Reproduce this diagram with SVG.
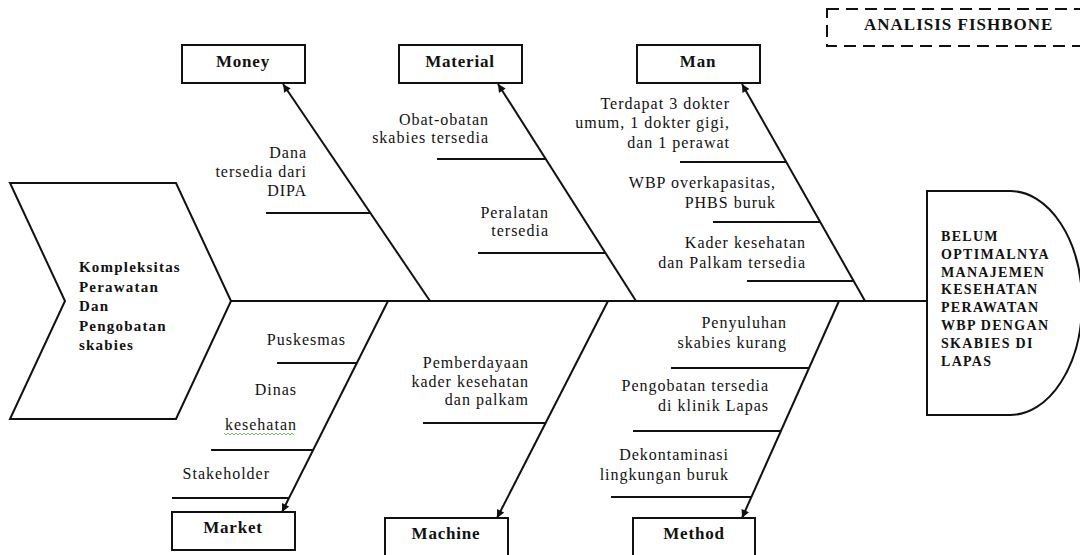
<svg xmlns="http://www.w3.org/2000/svg" width="1080" height="555" viewBox="0 0 1080 555">
<style>
.ln{stroke:#111;stroke-width:2;fill:none}
.box{stroke:#111;stroke-width:2;fill:#fff}
.t{font-family:"Liberation Serif","Times New Roman",serif;font-size:16px;fill:#111;letter-spacing:1px;text-anchor:end}
.lb{font-family:"Liberation Serif","Times New Roman",serif;font-size:17px;font-weight:bold;fill:#111;text-anchor:middle;letter-spacing:0.8px}
.bt{font-family:"Liberation Serif","Times New Roman",serif;font-weight:bold;fill:#111}
</style>
<defs>
<marker id="ah" viewBox="0 0 10 10" refX="10" refY="5" markerWidth="10" markerHeight="8" markerUnits="userSpaceOnUse" orient="auto">
<path d="M0,0 L10,5 L0,10 z" fill="#111"/>
</marker>
</defs>
<rect width="1080" height="555" fill="#fff"/>

<g id="title">
<rect x="827" y="9" width="300" height="37" fill="none" stroke="#111" stroke-width="2" stroke-dasharray="12 7"/>
<text class="bt" x="864" y="30" font-size="17" letter-spacing="1">ANALISIS FISHBONE</text>
</g>

<g id="tail">
<polygon class="box" points="10,183 176,183 231,301 176,419 10,419 65,301"/>
<g class="bt" font-size="15" letter-spacing="1.2">
<text x="79" y="272">Kompleksitas</text>
<text x="79" y="292">Perawatan</text>
<text x="79" y="311">Dan</text>
<text x="79" y="331">Pengobatan</text>
<text x="79" y="350">skabies</text>
</g>
</g>

<g id="head">
<path class="box" d="M927,191 H1010 A72,112 0 0 1 1010,415 H927 Z"/>
<g class="bt" font-size="14" letter-spacing="1.3">
<text x="941" y="241">BELUM</text>
<text x="941" y="259">OPTIMALNYA</text>
<text x="941" y="277">MANAJEMEN</text>
<text x="941" y="294">KESEHATAN</text>
<text x="941" y="312">PERAWATAN</text>
<text x="941" y="330">WBP DENGAN</text>
<text x="941" y="348">SKABIES DI</text>
<text x="941" y="366">LAPAS</text>
</g>
</g>

<g id="connectors">
<line class="ln" x1="231" y1="301" x2="927" y2="301"/>
<line class="ln" x1="430" y1="301" x2="283" y2="84" marker-end="url(#ah)"/>
<line class="ln" x1="636" y1="301" x2="498" y2="84" marker-end="url(#ah)"/>
<line class="ln" x1="865" y1="301" x2="742" y2="84" marker-end="url(#ah)"/>
<line class="ln" x1="388" y1="301" x2="282" y2="512" marker-end="url(#ah)"/>
<line class="ln" x1="608" y1="301" x2="497" y2="518" marker-end="url(#ah)"/>
<line class="ln" x1="839" y1="301" x2="742" y2="518" marker-end="url(#ah)"/>
<line class="ln" x1="266" y1="213" x2="370" y2="213"/>
<line class="ln" x1="437" y1="159" x2="545" y2="159"/>
<line class="ln" x1="478" y1="253" x2="605" y2="253"/>
<line class="ln" x1="680" y1="162" x2="786" y2="162"/>
<line class="ln" x1="713" y1="222" x2="820" y2="222"/>
<line class="ln" x1="747" y1="281" x2="854" y2="281"/>
<line class="ln" x1="277" y1="363" x2="357" y2="363"/>
<line class="ln" x1="211" y1="450" x2="313" y2="450"/>
<line class="ln" x1="172" y1="498" x2="289" y2="498"/>
<line class="ln" x1="423" y1="423" x2="546" y2="423"/>
<line class="ln" x1="671" y1="368" x2="809" y2="368"/>
<line class="ln" x1="633" y1="431" x2="780" y2="431"/>
<line class="ln" x1="611" y1="497" x2="751" y2="497"/>
</g>

<g id="money">
<rect class="box" x="182" y="45" width="123" height="38"/>
<text class="lb" x="243" y="67">Money</text>
<text class="t" x="307" y="158">Dana</text>
<text class="t" x="307" y="177">tersedia dari</text>
<text class="t" x="307" y="196">DIPA</text>
</g>

<g id="material">
<rect class="box" x="399" y="45" width="123" height="38"/>
<text class="lb" x="460" y="67">Material</text>
<text class="t" x="489" y="125">Obat-obatan</text>
<text class="t" x="489" y="143">skabies tersedia</text>
<text class="t" x="549" y="218">Peralatan</text>
<text class="t" x="549" y="236">tersedia</text>
</g>

<g id="man">
<rect class="box" x="637" y="45" width="123" height="38"/>
<text class="lb" x="698" y="67">Man</text>
<text class="t" x="730" y="109">Terdapat 3 dokter</text>
<text class="t" x="730" y="128">umum, 1 dokter gigi,</text>
<text class="t" x="730" y="148">dan 1 perawat</text>
<text class="t" x="776" y="188">WBP overkapasitas,</text>
<text class="t" x="776" y="208">PHBS buruk</text>
<text class="t" x="806" y="248">Kader kesehatan</text>
<text class="t" x="806" y="268">dan Palkam tersedia</text>
</g>

<g id="market">
<rect class="box" x="172" y="512" width="123" height="38"/>
<text class="lb" x="233" y="533">Market</text>
<text class="t" x="346" y="345">Puskesmas</text>
<text class="t" x="297" y="395">Dinas</text>
<text class="t" x="297" y="430">kesehatan</text>
<path d="M224,433 l2,2 l2,-2 l2,2 l2,-2 l2,2 l2,-2 l2,2 l2,-2 l2,2 l2,-2 l2,2 l2,-2 l2,2 l2,-2 l2,2 l2,-2 l2,2 l2,-2 l2,2 l2,-2 l2,2 l2,-2 l2,2 l2,-2 l2,2 l2,-2 l2,2 l2,-2 l2,2 l2,-2 l2,2 l2,-2 l2,2 l2,-2 l2,2" fill="none" stroke="#5a5" stroke-width="0.8"/>
<text class="t" x="270" y="479">Stakeholder</text>
</g>

<g id="machine">
<rect class="box" x="385" y="518" width="123" height="45"/>
<text class="lb" x="446" y="539">Machine</text>
<text class="t" x="529" y="368">Pemberdayaan</text>
<text class="t" x="529" y="387">kader kesehatan</text>
<text class="t" x="529" y="405">dan palkam</text>
</g>

<g id="method">
<rect class="box" x="633" y="518" width="122" height="45"/>
<text class="lb" x="694" y="539">Method</text>
<text class="t" x="787" y="328">Penyuluhan</text>
<text class="t" x="787" y="348">skabies kurang</text>
<text class="t" x="769" y="391">Pengobatan tersedia</text>
<text class="t" x="769" y="411">di klinik Lapas</text>
<text class="t" x="729" y="460">Dekontaminasi</text>
<text class="t" x="729" y="480">lingkungan buruk</text>
</g>
</svg>
